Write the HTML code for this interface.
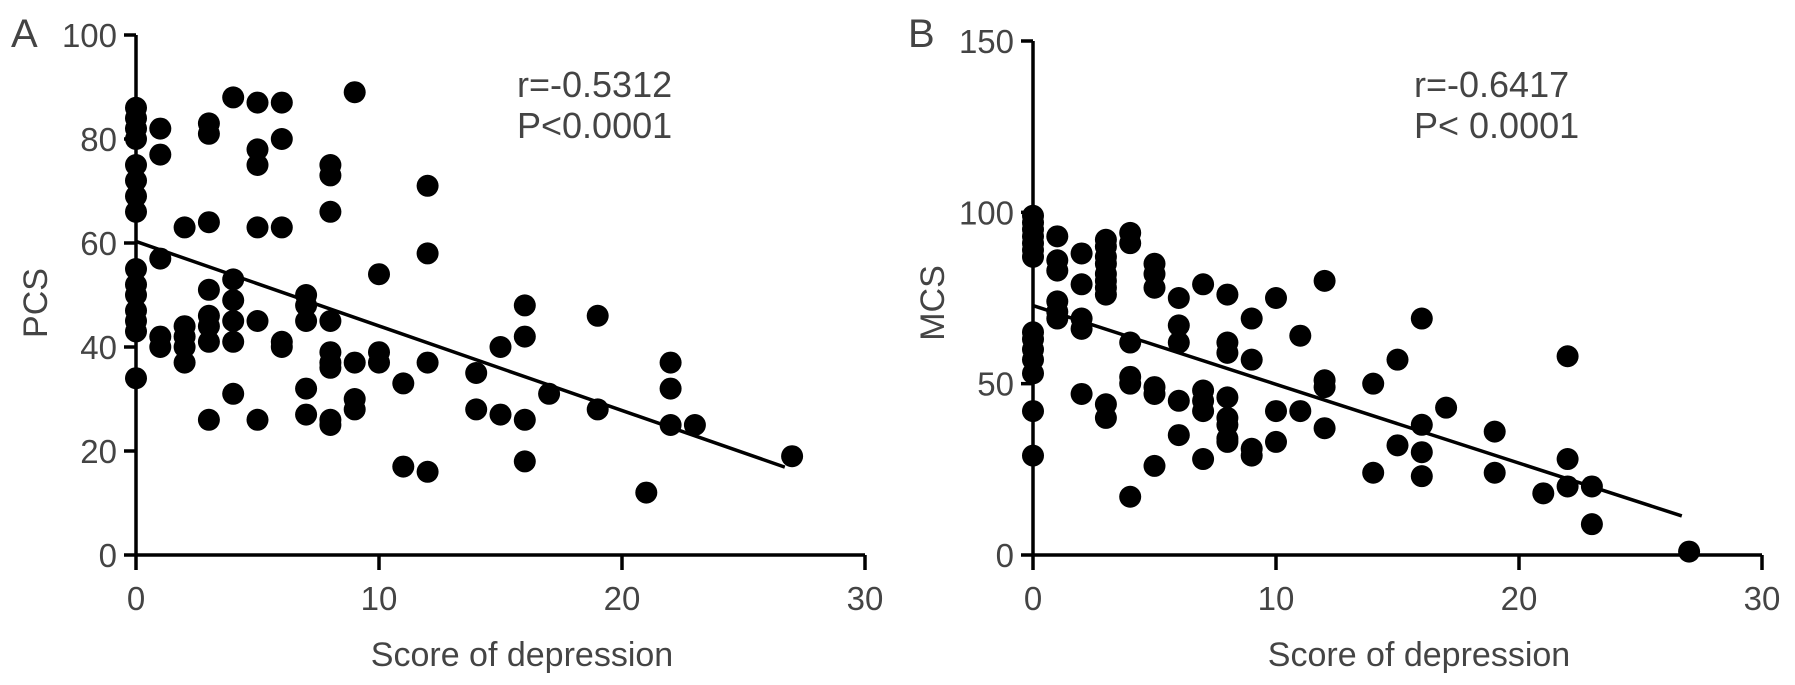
<!DOCTYPE html>
<html><head><meta charset="utf-8">
<style>
html,body{margin:0;padding:0;background:#fff;}
svg{display:block;}
text{font-family:"Liberation Sans",Arial,sans-serif;fill:#444;}
</style></head>
<body>
<svg id="chart" width="1795" height="685" viewBox="0 0 1795 685" xmlns="http://www.w3.org/2000/svg"></svg>
<script>
// Panel A data (PCS vs depression score)
const aX = [0,0,0,0,0,0,0,0,0,0,0,0,0,0,0,
  1,1,1,1,1, 2,2,2,2,2, 3,3,3,3,3,3,3,3, 4,4,4,4,4,4, 5,5,5,5,5,5, 6,6,6,6,6,
  7,7,7,7,7, 8,8,8,8,8,8,8,8,8, 9,9,9,9, 10,10,10, 11,11, 12,12,12,12, 14,14, 15,15,
  16,16,16,16, 17, 19,19, 21, 22,22,22, 23, 27];
const aY = [86,84,82,80,75,72,69,66,55,52,50,47,45,43,34,
  82,77,57,42,40, 63,44,42,40,37, 83,81,64,51,46,44,41,26, 88,53,49,45,41,31, 87,78,75,63,45,26, 87,80,63,41,40,
  50,48,45,32,27, 75,73,66,45,39,37,36,26,25, 89,37,30,28, 54,39,37, 33,17, 71,58,37,16, 35,28, 40,27,
  48,42,26,18, 31, 46,28, 12, 37,32,25, 25, 19];
const aLine = [[0,60.3],[26.7,16.9]];
const aYTicks = [0,20,40,60,80,100];
// Panel B data (MCS vs depression score)
const bX = [0,0,0,0,0,0,0,0,0,0,0,0,0,0,
  1,1,1,1,1,1, 2,2,2,2,2, 3,3,3,3,3,3,3,3,3,3, 4,4,4,4,4,4, 5,5,5,5,5,5, 6,6,6,6,6,
  7,7,7,7,7, 8,8,8,8,8,8,8,8, 9,9,9,9, 10,10,10, 11,11, 12,12,12,12, 14,14, 15,15,
  16,16,16,16, 17, 19,19, 21, 22,22,22, 23,23, 27];
const bY = [99,97,95,93,91,89,87,65,63,60,57,53,42,29,
  93,86,83,74,71,69, 88,79,69,66,47, 92,90,87,85,82,80,78,76,44,40, 94,91,62,52,50,17, 85,82,78,49,47,26, 75,67,62,45,35,
  79,48,45,42,28, 76,62,59,46,40,38,34,33, 69,57,31,29, 75,42,33, 64,42, 80,51,49,37, 50,24, 57,32,
  69,38,30,23, 43, 36,24, 18, 58,28,20, 20,9, 1];
const bLine = [[0,72.8],[26.7,11.4]];
const bYTicks = [0,50,100,150];
const xTicks = [0,10,20,30];

const svg = document.getElementById('chart');
const NS = 'http://www.w3.org/2000/svg';
function mk(tag, attrs, parent){
  const e = document.createElementNS(NS, tag);
  for (const k in attrs) e.setAttribute(k, attrs[k]);
  (parent||svg).appendChild(e);
  return e;
}

function panel(p){
  const g = mk('g', {});
  
  
  const x0 = p.x0, x1 = p.x0 + 729, y0 = 555, yTop = p.yTop;
  const sx = v => x0 + v / 30 * (x1 - x0);
  const sy = v => y0 - v / p.yMax * (y0 - yTop);
  const yAxis = mk('line', {x1:x0, y1:y0, x2:x0, y2:yTop, stroke:'#000', 'stroke-width':3.5}, g);
  
  
  const xAxis = mk('line', {x1:x0, y1:y0, x2:x1, y2:y0, stroke:'#000', 'stroke-width':3.5}, g);
  
  
  p.yTicks.forEach(t => {
    const y = sy(t);
    const tk = mk('line', {x1:x0-12, y1:y, x2:x0, y2:y, stroke:'#000', 'stroke-width':3.5}, g);
    
    
    const tl = mk('text', {x:x0-19, y:y+12, 'text-anchor':'end', 'font-size':33}, g);
    tl.textContent = t;
    
    
  });
  xTicks.forEach(t => {
    const x = sx(t);
    const tk = mk('line', {x1:x, y1:y0, x2:x, y2:y0+15, stroke:'#000', 'stroke-width':3.5}, g);
    
    
    const tl = mk('text', {x:x, y:610, 'text-anchor':'middle', 'font-size':33}, g);
    tl.textContent = t;
    
    
  });
  p.xs.forEach((xv, i) => {
    const c = mk('circle', {cx:sx(xv), cy:sy(p.ys[i]), r:11, fill:'#000'}, g);
    
    
  });
  const rl = mk('line', {x1:sx(p.line[0][0]), y1:sy(p.line[0][1]), x2:sx(p.line[1][0]), y2:sy(p.line[1][1]), stroke:'#000', 'stroke-width':3.5}, g);
  
  
  const pl = mk('text', {x:p.x0-125, y:47, 'font-size':40, fill:'#222'}, g);
  pl.textContent = p.letter;
  
  
  const yt = mk('text', {x:0, y:0, 'text-anchor':'middle', 'font-size':34, transform:'translate(' + (p.x0-89) + ',' + 303 + ') rotate(-90)', fill:'#555'}, g);
  yt.textContent = p.yTitle;
  
  
  const xt = mk('text', {x:x0+386, y:666, 'text-anchor':'middle', 'font-size':34, fill:'#555'}, g);
  xt.textContent = 'Score of depression';
  
  
  const r1 = mk('text', {x:x0+381, y:97, 'font-size':36, fill:'#555'}, g);
  r1.textContent = p.r;
  
  
  const r2 = mk('text', {x:x0+381, y:138, 'font-size':36, fill:'#555'}, g);
  r2.textContent = p.pv;
  
  
}

panel({id:'pcs', letter:'A', x0:136, yTop:35, yMax:100, yTicks:aYTicks, xs:aX, ys:aY, line:aLine, yTitle:'PCS', r:'r=-0.5312', pv:'P<0.0001'});
panel({id:'mcs', letter:'B', x0:1033, yTop:41, yMax:150, yTicks:bYTicks, xs:bX, ys:bY, line:bLine, yTitle:'MCS', r:'r=-0.6417', pv:'P< 0.0001'});
</script>
</body></html>
